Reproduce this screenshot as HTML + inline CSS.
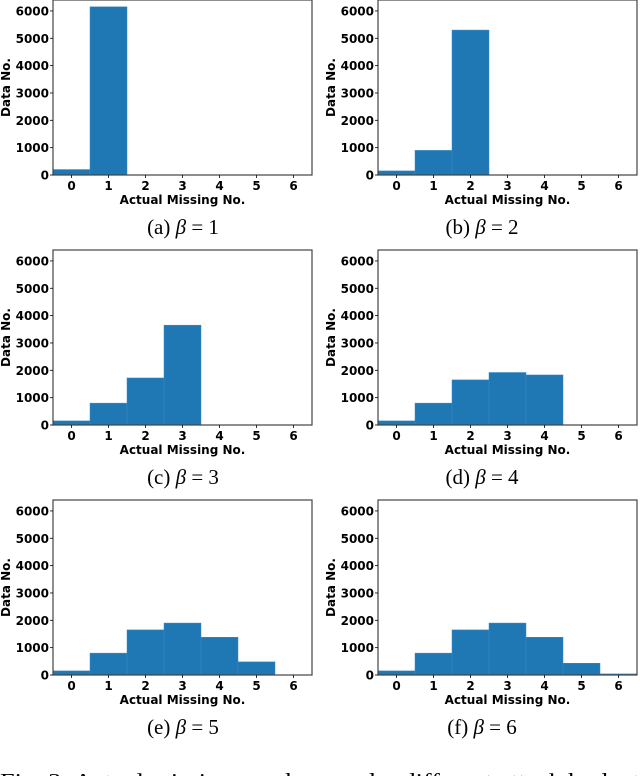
<!DOCTYPE html>
<html><head><meta charset="utf-8"><style>
html,body{margin:0;padding:0;background:#fff;width:640px;height:776px;overflow:hidden}
svg{display:block}
.tick{font-family:"DejaVu Sans","Liberation Sans",sans-serif;font-weight:bold;font-size:12px;fill:#000}
.cap{font-family:"Liberation Serif",serif;font-size:21px;fill:#000}
</style></head><body>
<svg id="fig" width="640" height="776"></svg>
<script>
const categories=[0,1,2,3,4,5,6];
const seriesA=[200,6150,0,0,0,0,0];
const seriesB=[150,900,5300,0,0,0,0];
const seriesC=[150,800,1720,3650,0,0,0];
const seriesD=[150,800,1650,1920,1830,0,0];
const seriesE=[150,800,1650,1900,1380,480,0];
const seriesF=[150,800,1650,1900,1380,430,40];
const yTicks=[0,1000,2000,3000,4000,5000,6000];
const captionLabels=["(a)","(b)","(c)","(d)","(e)","(f)"];
const betaValues=["1","2","3","4","5","6"];
const allSeries=[seriesA,seriesB,seriesC,seriesD,seriesE,seriesF];
const NS="http://www.w3.org/2000/svg";
const svg=document.getElementById('fig');
function mk(tag,attrs,parent){const e=document.createElementNS(NS,tag);for(const k in attrs)e.setAttribute(k,attrs[k]);(parent||svg).appendChild(e);return e;}
const YMAX=6400;
allSeries.forEach((data,i)=>{
  const col=i%2,row=Math.floor(i/2);
  const L=col?378:53,R=col?637:312,B=175+row*250,T=B-175;
  const sx=v=>L+(v+0.5)/7*(R-L);
  const sy=v=>B-v/YMAX*(B-T);
  const g=mk('g',{});
  
  
  data.forEach((v,j)=>{
    if(v<=0)return;
    const r=mk('rect',{x:sx(categories[j]-0.5),y:sy(v),width:sx(categories[j]+0.5)-sx(categories[j]-0.5),height:B-sy(v),fill:'#1f77b4',stroke:'#3a8ac4','stroke-width':0.5},g);
    
    
  });
  const frame=mk('rect',{x:L,y:T,width:R-L,height:B-T,fill:'none',stroke:'#444','stroke-width':1.2},g);
  
  
  yTicks.forEach(t=>{
    mk('line',{x1:L-3,x2:L,y1:sy(t),y2:sy(t),stroke:'#000','stroke-width':0.8},g);
    const tx=mk('text',{x:L-4,y:sy(t)+4.5,'text-anchor':'end',class:'tick'},g);tx.textContent=t;
    
    
  });
  categories.forEach(c=>{
    mk('line',{x1:sx(c),x2:sx(c),y1:B,y2:B+3,stroke:'#000','stroke-width':0.8},g);
    const tx=mk('text',{x:sx(c),y:B+15,'text-anchor':'middle',class:'tick'},g);tx.textContent=c;
    
    
  });
  const xl=mk('text',{x:(L+R)/2,y:B+29,'text-anchor':'middle',class:'tick'},g);xl.textContent='Actual Missing No.';
  
  
  const yx=L-43,yy=(T+B)/2;
  const yl=mk('text',{x:yx,y:yy,'text-anchor':'middle',class:'tick','font-size':'11',transform:`rotate(-90 ${yx} ${yy})`},g);yl.textContent='Data No.';
  
  
  const cp=mk('text',{x:col?482:183,y:B+59,'text-anchor':'middle',class:'cap'},g);
  cp.innerHTML=captionLabels[i]+' <tspan font-style="italic">β</tspan> = '+betaValues[i];
  
  
});
const fc=mk('text',{x:0,y:788,class:'cap','font-size':'22',textLength:'640',lengthAdjust:'spacingAndGlyphs'});
fc.textContent='Fig. 2: Actual missing numbers under different attack budget';


</script>
</body></html>
